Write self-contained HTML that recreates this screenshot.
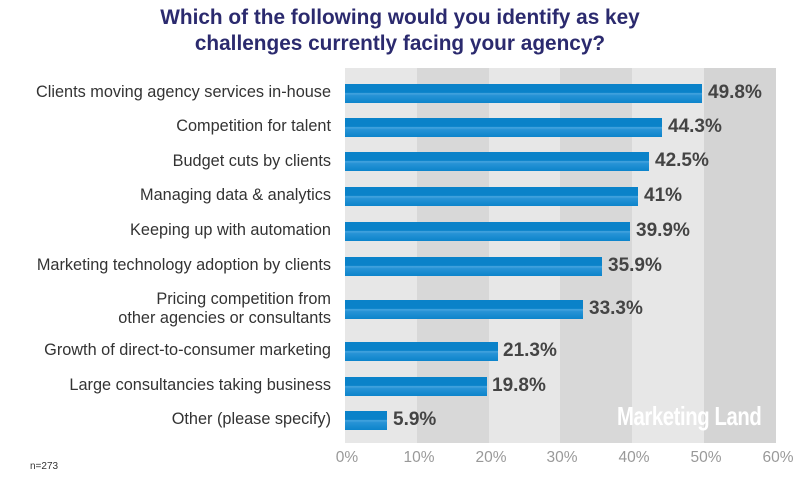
<!DOCTYPE html>
<html><head><meta charset="utf-8"><style>
body{margin:0;background:#fff;width:800px;height:482px;overflow:hidden;font-family:"Liberation Sans",sans-serif;position:relative}
.t{position:absolute;left:0;width:800px;text-align:center;top:5px;color:#2b2a6e;font-weight:bold;font-size:20.8px;line-height:26px}
.band{position:absolute;top:68px;height:375px;width:71.8px}
.lab{position:absolute;right:469px;color:#333;font-size:16.3px;text-align:right;line-height:19px;white-space:nowrap}
.bar{position:absolute;left:345px;height:19px;background:linear-gradient(#0a82c9 0,#0a82c9 45%,#49a6e0 50%,#2793d6 60%,#0c84cb 100%)}
.v{position:absolute;color:#444;font-weight:bold;font-size:19px}
.tk{position:absolute;top:449px;color:#999;font-size:15.5px;width:50px;text-align:center}
</style></head><body>
<div class="t">Which of the following would you identify as key<br>challenges currently facing your agency?</div>
<div class="band" style="left:345px;background:#e7e7e7"></div>
<div class="band" style="left:416.8px;background:#d8d8d8"></div>
<div class="band" style="left:488.6px;background:#e7e7e7"></div>
<div class="band" style="left:560.4px;background:#d8d8d8"></div>
<div class="band" style="left:632.2px;background:#e7e7e7"></div>
<div class="band" style="left:704px;background:#d4d4d4"></div>
<div style="position:absolute;left:617px;top:401px;color:#fff;font-weight:bold;font-size:26px;transform:scaleX(0.78);transform-origin:left;letter-spacing:-0.5px;white-space:nowrap">Marketing Land</div>

<div class="lab" style="top:83px">Clients moving agency services in-house</div>
<div class="lab" style="top:117px">Competition for talent</div>
<div class="lab" style="top:152px">Budget cuts by clients</div>
<div class="lab" style="top:186px">Managing data &amp; analytics</div>
<div class="lab" style="top:221px">Keeping up with automation</div>
<div class="lab" style="top:256px">Marketing technology adoption by clients</div>
<div class="lab" style="top:290px">Pricing competition from<br>other agencies or consultants</div>
<div class="lab" style="top:341px">Growth of direct-to-consumer marketing</div>
<div class="lab" style="top:376px">Large consultancies taking business</div>
<div class="lab" style="top:410px">Other (please specify)</div>

<div class="bar" style="top:84px;width:357px"></div><div class="v" style="left:708px;top:82px">49.8%</div>
<div class="bar" style="top:118px;width:317px"></div><div class="v" style="left:668px;top:116px">44.3%</div>
<div class="bar" style="top:152px;width:304px"></div><div class="v" style="left:655px;top:150px">42.5%</div>
<div class="bar" style="top:187px;width:293px"></div><div class="v" style="left:644px;top:185px">41%</div>
<div class="bar" style="top:222px;width:285px"></div><div class="v" style="left:636px;top:220px">39.9%</div>
<div class="bar" style="top:257px;width:257px"></div><div class="v" style="left:608px;top:255px">35.9%</div>
<div class="bar" style="top:300px;width:238px"></div><div class="v" style="left:589px;top:298px">33.3%</div>
<div class="bar" style="top:342px;width:153px"></div><div class="v" style="left:503px;top:340px">21.3%</div>
<div class="bar" style="top:377px;width:142px"></div><div class="v" style="left:492px;top:375px">19.8%</div>
<div class="bar" style="top:411px;width:42px"></div><div class="v" style="left:393px;top:409px">5.9%</div>

<div class="tk" style="left:322px">0%</div>
<div class="tk" style="left:394px">10%</div>
<div class="tk" style="left:466px">20%</div>
<div class="tk" style="left:537px">30%</div>
<div class="tk" style="left:609px">40%</div>
<div class="tk" style="left:681px">50%</div>
<div class="tk" style="left:753px">60%</div>
<div style="position:absolute;left:30px;top:461px;font-size:10px;color:#333">n=273</div>
</body></html>
